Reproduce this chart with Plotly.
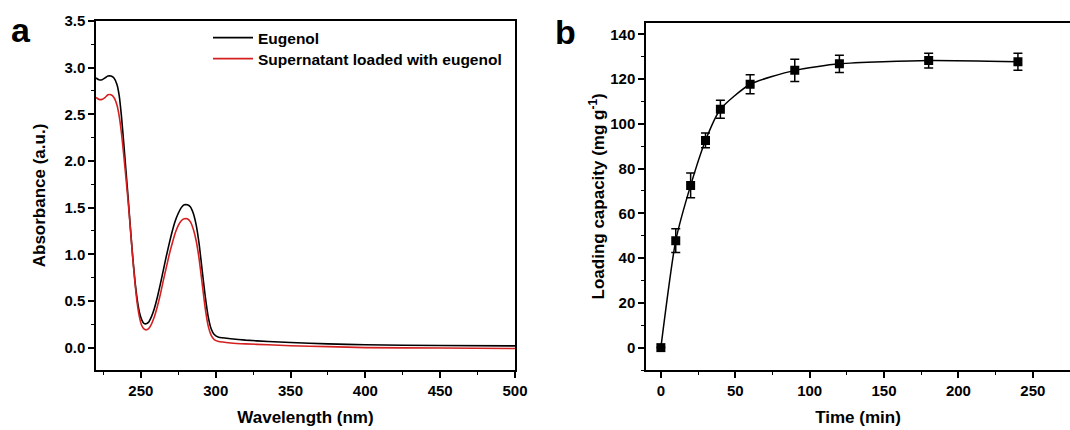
import plotly.graph_objects as go

W, H = 1070, 430

# ---- Panel a: UV-vis spectra ----
wl_eug = [220, 222, 224, 226, 228, 230, 232, 234, 235.5, 237, 238.5, 240, 241.5, 243, 244.5, 246, 247.5,
          249, 250.5, 252, 253.5, 255, 257, 259, 261, 263, 265, 267, 269, 271, 273, 275, 277, 279, 281,
          283, 285, 287, 289, 291, 293, 295, 297, 299, 302, 310, 320, 335, 350, 375, 400, 450, 500]
abs_eug = [2.89, 2.87, 2.87, 2.89, 2.91, 2.91, 2.89, 2.82, 2.70, 2.48, 2.20, 1.90, 1.60, 1.28, 0.98, 0.72, 0.52,
           0.38, 0.30, 0.26, 0.255, 0.27, 0.33, 0.42, 0.54, 0.68, 0.83, 0.98, 1.12, 1.25, 1.36, 1.44, 1.50, 1.53, 1.53,
           1.51, 1.44, 1.31, 1.10, 0.82, 0.55, 0.33, 0.20, 0.14, 0.11, 0.095, 0.08, 0.065, 0.055, 0.04, 0.03, 0.022, 0.018]

wl_sup = [220, 222, 224, 226, 228, 230, 232, 234, 235.5, 237, 238.5, 240, 241.5, 243, 244.5, 246, 247.5,
          249, 250.5, 252, 253.5, 255, 257, 259, 261, 263, 265, 267, 269, 271, 273, 275, 277, 279, 281,
          283, 285, 287, 289, 291, 293, 295, 297, 299, 302, 310, 320, 335, 350, 375, 400, 450, 500]
abs_sup = [2.68, 2.66, 2.66, 2.68, 2.71, 2.71, 2.68, 2.60, 2.48, 2.30, 2.07, 1.82, 1.56, 1.27, 0.97, 0.70, 0.48,
           0.33, 0.24, 0.20, 0.19, 0.20, 0.25, 0.33, 0.44, 0.57, 0.72, 0.86, 1.00, 1.12, 1.23, 1.31, 1.36, 1.38, 1.38,
           1.35, 1.27, 1.14, 0.94, 0.68, 0.42, 0.23, 0.13, 0.085, 0.065, 0.05, 0.04, 0.03, 0.02, 0.01, 0.0, -0.005, -0.01]

# ---- Panel b: loading kinetics ----
time_min = [0, 10, 20, 30, 40, 60, 90, 120, 180, 240]
loading = [0, 47.8, 72.5, 92.6, 106.5, 117.7, 123.9, 126.8, 128.3, 127.7]
loading_err = [0, 5.3, 5.5, 3.3, 4.0, 4.2, 5.0, 3.8, 3.3, 3.8]

FONT = "Arial, Liberation Sans, sans-serif"
RED = "#d42020"

fig = go.Figure()
fig.add_trace(go.Scatter(x=wl_eug, y=abs_eug, mode="lines", name="<b>Eugenol</b>",
                         line=dict(color="black", width=1.6, shape="spline", smoothing=0.5),
                         xaxis="x", yaxis="y", legend="legend"))
fig.add_trace(go.Scatter(x=wl_sup, y=abs_sup, mode="lines", name="<b>Supernatant loaded with eugenol</b>",
                         line=dict(color=RED, width=1.6, shape="spline", smoothing=0.5),
                         xaxis="x", yaxis="y", legend="legend2"))
fig.add_trace(go.Scatter(x=time_min, y=loading, mode="lines+markers", showlegend=False,
                         line=dict(color="black", width=1.5, shape="spline", smoothing=0.6),
                         marker=dict(symbol="square", size=9, color="black"),
                         error_y=dict(type="data", array=loading_err, color="black", thickness=1.5, width=4.5),
                         xaxis="x2", yaxis="y2"))

def px_x(p):
    return p / W

def px_y(p):
    return 1 - p / H

tickfont = dict(family=FONT, size=15, color="black")
titlefont = dict(family=FONT, size=17, color="black")
common = dict(showline=True, linecolor="black", linewidth=1.5, ticks="outside", ticklen=6, tickwidth=1.5,
              tickcolor="black", showgrid=False, zeroline=False, tickfont=tickfont, automargin=False)
legfont = dict(family=FONT, size=15.5, color="black")

fig.update_layout(
    width=W, height=H, margin=dict(l=0, r=0, t=0, b=0, autoexpand=False),
    paper_bgcolor="white", plot_bgcolor="white",
    font=dict(family=FONT, color="black"),
    xaxis=dict(domain=[px_x(96), px_x(515)], range=[220, 500], dtick=50, tick0=0, mirror=True,
               minor=dict(ticks="outside", ticklen=3, tickwidth=1.2, tickcolor="black", dtick=25, tick0=0),
               title=dict(text="<b>Wavelength (nm)</b>", font=titlefont, standoff=13),
               tickprefix="<b>", ticksuffix="</b>", anchor="y", **common),
    yaxis=dict(domain=[px_y(370), px_y(21)], range=[-0.24, 3.5], dtick=0.5, tick0=0, tickformat=".1f", mirror=True,
               minor=dict(ticks="outside", ticklen=3, tickwidth=1.2, tickcolor="black", dtick=0.25, tick0=0),
               title=dict(text="<b>Absorbance (a.u.)</b>", font=titlefont, standoff=14),
               tickprefix="<b>", ticksuffix="</b>", anchor="x", **common),
    xaxis2=dict(domain=[px_x(646), 1.0], range=[-10, 275], dtick=50, tick0=0, mirror=True,
                minor=dict(ticks="outside", ticklen=3, tickwidth=1.2, tickcolor="black", dtick=25, tick0=0),
                title=dict(text="<b>Time (min)</b>", font=titlefont, standoff=13),
                tickprefix="<b>", ticksuffix="</b>", anchor="y2", **common),
    yaxis2=dict(domain=[px_y(370), px_y(22.7)], range=[-10, 145.2], dtick=20, tick0=0, mirror=False,
                minor=dict(ticks="outside", ticklen=3, tickwidth=1.2, tickcolor="black", dtick=10, tick0=0),
                title=dict(text="<b>Loading capacity (mg g<sup>-1</sup>)</b>", font=titlefont, standoff=1),
                tickprefix="<b>", ticksuffix="</b>", anchor="x2", **common),
    legend=dict(x=px_x(208), y=px_y(38), xanchor="left", yanchor="middle", bgcolor="rgba(0,0,0,0)",
                font=legfont, itemwidth=40),
    legend2=dict(x=px_x(208), y=px_y(59), xanchor="left", yanchor="middle", bgcolor="rgba(0,0,0,0)",
                 font=legfont, itemwidth=40),
    annotations=[
        dict(text="<b>a</b>", x=px_x(9), y=px_y(9), xref="paper", yref="paper", xanchor="left", yanchor="top",
             showarrow=False, font=dict(family=FONT, size=34, color="black")),
        dict(text="<b>b</b>", x=px_x(553), y=px_y(11), xref="paper", yref="paper", xanchor="left", yanchor="top",
             showarrow=False, font=dict(family=FONT, size=34, color="black")),
    ],
)

fig.write_html("out.html", config={"displayModeBar": False},
               post_script="document.body.style.margin='0px';")
